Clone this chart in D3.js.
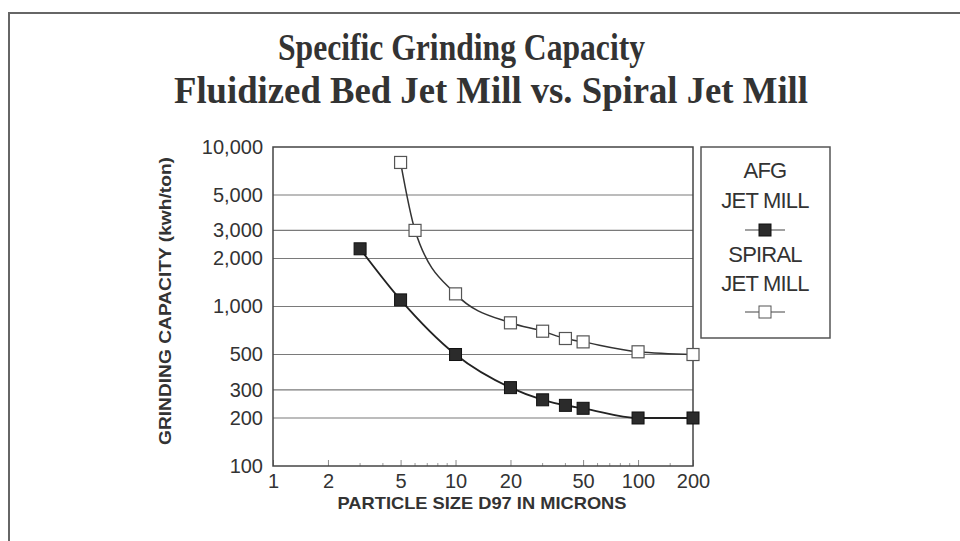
<!DOCTYPE html>
<html>
<head>
<meta charset="utf-8">
<script src="https://cdn.jsdelivr.net/npm/d3@7"></script>
<style>
    body { margin: 0; background: #fff; }
    .title { font-family: "Liberation Serif", "Times New Roman", serif; font-weight: bold; fill: #333; }
    .tickLabel { font-family: "Liberation Sans", Arial, sans-serif; font-size: 20px; fill: #333; }
    .axisTitle { font-family: "Liberation Sans", Arial, sans-serif; font-weight: bold; font-size: 17px; fill: #333; }
    .legendText { font-family: "Liberation Sans", Arial, sans-serif; font-size: 22px; fill: #333; letter-spacing: -0.8px; }
</style>
</head>
<body>
<div id="chart"></div>
<script>
// particle size D97 (microns) and grinding capacity (kwh/ton)
const afgSize = [3, 5, 10, 20, 30, 40, 50, 100, 200];
const afgValue = [2300, 1100, 500, 310, 260, 240, 230, 200, 200];
const spiralSize = [5, 6, 10, 20, 30, 40, 50, 100, 200];
const spiralValue = [8000, 3000, 1200, 790, 700, 630, 600, 520, 500];

const xTicks = [1, 2, 5, 10, 20, 50, 100, 200];
const xMinor = [3, 4, 6, 7, 8, 9, 30, 40, 60, 70, 80, 90, 150];
const yTicks = [100, 200, 300, 500, 1000, 2000, 3000, 5000, 10000];
const titleLines = ['Specific Grinding Capacity', 'Fluidized Bed Jet Mill vs. Spiral Jet Mill'];
const legendLines = ['AFG', 'JET MILL', 'SPIRAL', 'JET MILL'];

const width = 960;
const height = 541;
const plot = { left: 273, right: 693, top: 147, bottom: 466 };

const svg = d3.select('#chart').append('svg')
    .attr('width', width)
    .attr('height', height);

// outer frame of the scanned page
svg.append('path')
    .attr('d', `M9,${height} L9,13 L${width},13`)
    .attr('fill', 'none')
    .attr('stroke', '#666')
    .attr('stroke-width', 2);

// title (tall, condensed serif like the scan)
svg.append('text').attr('class', 'title')
    .attr('x', 278).attr('y', 60)
    .attr('font-size', 38)
    .attr('textLength', 367).attr('lengthAdjust', 'spacingAndGlyphs')
    .text(titleLines[0]);
svg.append('text').attr('class', 'title')
    .attr('x', 174).attr('y', 103)
    .attr('font-size', 38)
    .attr('textLength', 634).attr('lengthAdjust', 'spacingAndGlyphs')
    .text(titleLines[1]);

const x = d3.scaleLog()
    .domain([1, 200])
    .range([plot.left, plot.right]);

const y = d3.scaleLog()
    .domain([100, 10000])
    .range([plot.bottom, plot.top]);

// horizontal grid lines
svg.append('g')
    .selectAll('line')
    .data(yTicks.filter(d => d > 100 && d < 10000))
    .enter()
    .append('line')
    .attr('x1', plot.left).attr('x2', plot.right)
    .attr('y1', d => y(d)).attr('y2', d => y(d))
    .attr('stroke', '#7a7a7a')
    .attr('stroke-width', 1.2);

// x axis: labels plus small ticks pointing into the plot
const xAxis = d3.axisBottom(x)
    .tickValues(xTicks)
    .tickSize(-6)
    .tickPadding(8)
    .tickFormat(d3.format('d'));

const gx = svg.append('g')
    .attr('transform', `translate(0, ${plot.bottom})`)
    .call(xAxis);
gx.select('.domain').remove();
gx.selectAll('.tick line').attr('stroke', '#888');
gx.selectAll('.tick text').attr('class', 'tickLabel').attr('font-size', null).attr('font-family', null);

svg.append('g')
    .selectAll('line')
    .data(xMinor)
    .enter()
    .append('line')
    .attr('x1', d => x(d)).attr('x2', d => x(d))
    .attr('y1', plot.bottom).attr('y2', plot.bottom - 3)
    .attr('stroke', '#999');

// y axis labels
const yAxis = d3.axisLeft(y)
    .tickValues(yTicks)
    .tickSize(0)
    .tickPadding(10)
    .tickFormat(d3.format(','));

const gy = svg.append('g')
    .attr('transform', `translate(${plot.left}, 0)`)
    .call(yAxis);
gy.select('.domain').remove();
gy.selectAll('.tick text').attr('class', 'tickLabel').attr('font-size', null).attr('font-family', null);

// plot border
svg.append('rect')
    .attr('x', plot.left).attr('y', plot.top)
    .attr('width', plot.right - plot.left)
    .attr('height', plot.bottom - plot.top)
    .attr('fill', 'none')
    .attr('stroke', '#444')
    .attr('stroke-width', 1.5);

// axis titles
svg.append('text').attr('class', 'axisTitle')
    .attr('x', 482).attr('y', 509)
    .attr('text-anchor', 'middle')
    .attr('textLength', 289).attr('lengthAdjust', 'spacingAndGlyphs')
    .text('PARTICLE SIZE D97 IN MICRONS');

svg.append('text').attr('class', 'axisTitle')
    .attr('transform', 'translate(171, 301) rotate(-90)')
    .attr('text-anchor', 'middle')
    .attr('textLength', 288).attr('lengthAdjust', 'spacingAndGlyphs')
    .text('GRINDING CAPACITY (kwh/ton)');

// series
const line = d3.line()
    .x(d => x(d[0]))
    .y(d => y(d[1]))
    .curve(d3.curveMonotoneX);

const afg = d3.zip(afgSize, afgValue);
const spiral = d3.zip(spiralSize, spiralValue);

svg.append('path')
    .datum(spiral)
    .attr('d', line)
    .attr('fill', 'none')
    .attr('stroke', '#333')
    .attr('stroke-width', 1.5);

svg.append('path')
    .datum(afg)
    .attr('d', line)
    .attr('fill', 'none')
    .attr('stroke', '#222')
    .attr('stroke-width', 1.8);

const box = 12;
svg.selectAll('rect.open')
    .data(spiral)
    .enter()
    .append('rect')
    .attr('class', 'open')
    .attr('x', d => x(d[0]) - box / 2)
    .attr('y', d => y(d[1]) - box / 2)
    .attr('width', box).attr('height', box)
    .attr('fill', '#fff')
    .attr('stroke', '#555')
    .attr('stroke-width', 1.2);

svg.selectAll('rect.filled')
    .data(afg)
    .enter()
    .append('rect')
    .attr('class', 'filled')
    .attr('x', d => x(d[0]) - box / 2)
    .attr('y', d => y(d[1]) - box / 2)
    .attr('width', box).attr('height', box)
    .attr('fill', '#2b2b2b')
    .attr('stroke', '#111')
    .attr('stroke-width', 1);

// legend
const legend = { left: 701, top: 147, right: 830, bottom: 338 };
svg.append('rect')
    .attr('x', legend.left).attr('y', legend.top)
    .attr('width', legend.right - legend.left)
    .attr('height', legend.bottom - legend.top)
    .attr('fill', 'none')
    .attr('stroke', '#555')
    .attr('stroke-width', 1.5);

const legendCx = 765;
const legendBaselines = [178, 208, 262, 291];
svg.selectAll('text.legendText')
    .data(legendLines)
    .enter()
    .append('text')
    .attr('class', 'legendText')
    .attr('x', legendCx)
    .attr('y', (d, i) => legendBaselines[i])
    .attr('text-anchor', 'middle')
    .text(d => d);

[[230, '#2b2b2b', '#111'], [312, '#fff', '#555']].forEach(([ly, fill, stroke]) => {
    svg.append('line')
        .attr('x1', legendCx - 20).attr('x2', legendCx + 20)
        .attr('y1', ly).attr('y2', ly)
        .attr('stroke', '#444').attr('stroke-width', 1.2);
    svg.append('rect')
        .attr('x', legendCx - 6).attr('y', ly - 6)
        .attr('width', 12).attr('height', 12)
        .attr('fill', fill)
        .attr('stroke', stroke);
});
</script>
</body>
</html>
